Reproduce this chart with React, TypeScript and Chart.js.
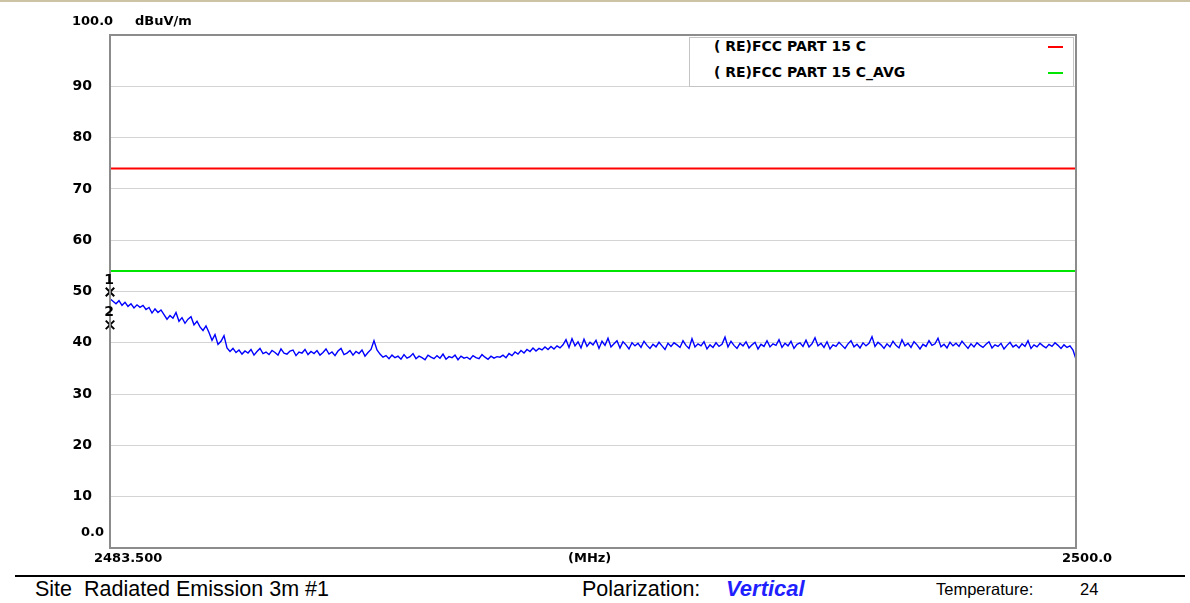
import React, { useEffect, useRef } from "react";
import { Chart, registerables } from "chart.js";

Chart.register(...registerables);

const freqStart = 2483.5;
const freqStop = 2500.0;
const yMin = 0;
const yMax = 100;
const yStep = 10;

const limitPeakLevel = 74;
const limitAvgLevel = 54;
const legendLabels = ["( RE)FCC PART 15 C", "( RE)FCC PART 15 C_AVG"];
const legendColors = ["#ff0000", "#00e600"];

const markerLabels = ["1", "2"];
const markerFreqs = [2483.5, 2483.5];
const markerLevels = [49.9, 43.5];

const traceStart = [
  48.6, 48.1, 47.6, 48.2, 47.3, 47.9, 47.1, 47.6, 46.8, 47.4,
  46.9, 47.3, 46.5, 46.9, 45.8, 46.6, 45.9,
  46.4, 45.5, 44.6, 45.3, 44.8, 45.9, 44.2, 44.9, 43.8, 44.6, 45.1, 43.5, 44.2,
  43.1, 42.4, 43.3, 42.0, 40.5, 41.6, 39.7, 40.3, 41.4, 39.0, 38.3, 38.9,
];
const traceLow = [
  38.1, 38.6, 37.8, 38.4, 38.0, 38.7, 37.6, 38.3, 38.9, 37.9,
  38.2, 37.7, 38.5, 38.1, 37.6, 38.8, 38.0, 37.8, 38.4, 38.6,
  37.5, 38.2, 38.0, 38.7, 37.7, 38.3, 37.9, 38.5, 37.6, 38.1,
  38.8, 37.8, 38.2, 37.5, 38.4, 38.9, 37.7, 38.0, 38.5, 37.6,
  38.3, 37.9, 38.6, 37.4, 38.1, 38.7,
  40.4, 38.6,
  37.8, 37.2, 37.5, 36.9, 37.6, 37.1, 37.4, 36.8, 37.7, 37.0,
  37.3, 37.9, 36.9, 37.4, 37.1, 36.7, 37.6, 37.2, 36.9, 37.5,
  37.0, 37.8, 36.8, 37.3, 37.1, 37.6, 36.7, 37.4, 37.0, 37.2,
  36.8, 37.5, 37.1, 36.9, 37.7, 37.2, 36.8, 37.4, 37.0, 37.3,
];
const traceRise = [
  37.2, 37.6, 37.1, 37.9, 37.5, 38.2, 37.8, 38.5, 38.0, 38.7,
  38.3, 39.0, 38.4, 38.9, 38.6, 39.2, 38.7, 39.3, 38.8, 39.4, 39.0, 39.6,
];
const tracePlateau = [
  40.6, 39.1, 40.8, 39.4, 40.2, 39.0, 40.7, 39.3, 40.1, 39.6,
  40.5, 38.9, 40.3, 39.5, 40.9, 39.2, 39.8, 40.4, 39.0, 40.2,
  39.6, 38.8, 40.0, 39.4, 39.9, 39.1, 40.3, 39.5, 38.9, 39.7,
  39.2, 40.1, 39.4, 38.7, 39.9, 39.3, 40.0, 39.6, 39.1, 40.4,
  39.5, 38.9, 40.8, 39.2, 39.8, 39.4, 40.2, 38.8, 39.6, 39.1,
  40.0, 39.3, 39.7, 41.1, 39.2, 40.3, 39.5, 38.9, 39.9, 39.4,
  40.2, 39.0, 39.6, 40.1, 38.8, 39.7, 39.3, 40.4, 39.2, 39.8,
  39.5, 40.6, 39.1, 39.9, 39.4, 40.3, 38.9, 39.7, 40.0, 39.3,
  40.5, 39.2, 39.8, 41.0, 39.4, 39.9, 39.1, 40.2, 38.8, 39.6,
  39.3, 40.1, 39.5, 38.9, 39.8, 40.4, 39.2, 39.7, 39.0, 40.0,
  39.4, 39.9, 41.2, 39.3, 40.1, 39.6, 38.9, 39.8, 39.2, 40.3,
  39.5, 39.0, 40.6, 39.4, 39.9, 39.1, 40.2, 39.6, 38.8, 39.7,
  39.3, 40.4, 39.5, 39.8, 40.9, 39.2, 39.7, 39.0, 40.1, 39.4,
  39.9, 39.3, 40.3, 39.6, 38.9, 39.8, 39.2, 40.0, 39.5, 39.1,
  39.7, 40.2, 39.0, 39.6, 39.3, 39.9, 38.8, 39.5, 40.1, 39.2,
  39.6, 39.0, 39.8, 39.3, 40.4, 38.9, 39.6, 39.2, 39.9, 39.4,
  39.0, 39.7, 39.3, 40.0, 39.5, 38.9, 39.6, 39.1, 39.4, 38.6,
  36.8,
];

const traceLevels = [...traceStart, ...traceLow, ...traceRise, ...tracePlateau];

const AXIS_FONT = "'DejaVu Sans', sans-serif";

export default function App() {
  const canvasRef = useRef<HTMLCanvasElement | null>(null);

  useEffect(() => {
    const canvas = canvasRef.current;
    if (!canvas) return;
    const n = traceLevels.length;
    const traceData = traceLevels.map((v, i) => ({
      x: freqStart + (i * (freqStop - freqStart)) / (n - 1),
      y: v,
    }));
    const markerData = markerLevels.map((v, i) => ({ x: markerFreqs[i], y: v }));

    const framePlugin = {
      id: "frame",
      afterDraw(chart: any) {
        const { ctx, chartArea } = chart;
        ctx.save();
        ctx.strokeStyle = "#8c8c8c";
        ctx.lineWidth = 2;
        ctx.strokeRect(chartArea.left, chartArea.top, chartArea.right - chartArea.left, chartArea.bottom - chartArea.top);
        ctx.restore();
      },
    };

    const markerLabelPlugin = {
      id: "markerLabels",
      afterDraw(chart: any) {
        const { ctx } = chart;
        const xs = chart.scales.x;
        const ys = chart.scales.y;
        ctx.save();
        ctx.fillStyle = "#000";
        ctx.font = `bold 14px ${AXIS_FONT}`;
        ctx.textAlign = "center";
        ctx.textBaseline = "middle";
        markerLabels.forEach((lab, i) => {
          const px = xs.getPixelForValue(markerFreqs[i]);
          const py = ys.getPixelForValue(markerLevels[i]);
          ctx.fillText(lab, px - 1, py - 12);
        });
        ctx.restore();
      },
    };

    const chart = new Chart(canvas, {
      type: "line",
      data: {
        datasets: [
          {
            type: "scatter",
            label: "markers",
            data: markerData,
            pointStyle: "crossRot",
            pointRadius: 6,
            pointBorderColor: "#000",
            pointBorderWidth: 2,
            borderColor: "#000",
            showLine: false,
            clip: false as any,
          },
          {
            label: "trace",
            data: traceData,
            borderColor: "#0000ff",
            borderWidth: 1.4,
            pointRadius: 0,
            tension: 0,
          },
          {
            label: legendLabels[0],
            data: [
              { x: freqStart, y: limitPeakLevel },
              { x: freqStop, y: limitPeakLevel },
            ],
            borderColor: legendColors[0],
            borderWidth: 2,
            pointRadius: 0,
          },
          {
            label: legendLabels[1],
            data: [
              { x: freqStart, y: limitAvgLevel },
              { x: freqStop, y: limitAvgLevel },
            ],
            borderColor: legendColors[1],
            borderWidth: 2,
            pointRadius: 0,
          },
        ],
      },
      options: {
        responsive: false,
        maintainAspectRatio: false,
        animation: false,
        layout: { padding: { left: 0, right: 114, top: 35, bottom: 0 } },
        plugins: {
          legend: { display: false },
          tooltip: { enabled: false },
          title: { display: false },
        },
        scales: {
          x: {
            type: "linear",
            min: freqStart,
            max: freqStop,
            grid: { display: false },
            border: { display: false },
            ticks: { display: false },
            afterFit(scale: any) {
              scale.height = 27;
            },
          },
          y: {
            type: "linear",
            min: yMin,
            max: yMax,
            grid: {
              color: "#d4d4d4",
              lineWidth: 1,
              drawTicks: false,
            },
            border: { display: false },
            ticks: {
              stepSize: yStep,
              padding: 18,
              color: "#000",
              font: { family: AXIS_FONT, size: 14, weight: "bold" },
              callback: (v: any) => (v === yMin || v === yMax ? "" : String(v)),
            },
            afterFit(scale: any) {
              scale.width = 110;
            },
          },
        },
      },
      plugins: [framePlugin, markerLabelPlugin],
    });
    return () => chart.destroy();
  }, []);

  const bold13: React.CSSProperties = {
    position: "absolute",
    fontFamily: AXIS_FONT,
    fontWeight: "bold",
    fontSize: 13,
    lineHeight: "16px",
    color: "#000",
    whiteSpace: "pre",
  };
  const arial: React.CSSProperties = {
    position: "absolute",
    fontFamily: "Arial, 'Liberation Sans', sans-serif",
    color: "#000",
    whiteSpace: "pre",
  };

  return (
    <div
      style={{
        position: "absolute",
        left: 0,
        top: 0,
        width: 1190,
        height: 603,
        background: "#fff",
        overflow: "hidden",
        borderTop: "2px solid #cbc3a3",
        boxSizing: "border-box",
      }}
    >
      <canvas
        ref={canvasRef}
        width={1190}
        height={575}
        style={{ position: "absolute", left: 0, top: -2, width: 1190, height: 575 }}
      />
      <div style={{ ...bold13, left: 72, top: 11 }}>100.0</div>
      <div style={{ ...bold13, left: 135, top: 11 }}>dBuV/m</div>
      <div style={{ ...bold13, left: 60, width: 44, textAlign: "right", top: 522 }}>0.0</div>
      <div style={{ ...bold13, left: 94, top: 548 }}>2483.500</div>
      <div style={{ ...bold13, left: 568, top: 548 }}>(MHz)</div>
      <div style={{ ...bold13, left: 1062, top: 548 }}>2500.0</div>

      <div
        style={{
          position: "absolute",
          left: 689,
          top: 35,
          width: 383,
          height: 48,
          border: "1px solid #c4c4c4",
          background: "#fff",
        }}
      />
      {legendLabels.map((lab, i) => (
        <React.Fragment key={lab}>
          <div style={{ ...bold13, fontSize: 14, left: 714, top: 36 + i * 26 }}>{lab}</div>
          <div
            style={{
              position: "absolute",
              left: 1048,
              top: 44 + i * 26,
              width: 15,
              height: 2,
              background: legendColors[i],
            }}
          />
        </React.Fragment>
      ))}

      <div style={{ position: "absolute", left: 15, top: 573, width: 1170, height: 2, background: "#000" }} />
      <div style={{ ...arial, left: 35, top: 574, fontSize: 21.5, lineHeight: "26px" }}>{"Site  Radiated Emission 3m #1"}</div>
      <div style={{ ...arial, left: 582, top: 574, fontSize: 21.5, lineHeight: "26px" }}>Polarization:</div>
      <div
        style={{
          ...arial,
          left: 726,
          top: 574,
          fontSize: 22,
          lineHeight: "26px",
          fontWeight: "bold",
          fontStyle: "italic",
          color: "#1f1fff",
        }}
      >
        Vertical
      </div>
      <div style={{ ...arial, left: 936, top: 577, fontSize: 16.5, lineHeight: "20px" }}>Temperature:</div>
      <div style={{ ...arial, left: 1080, top: 577, fontSize: 16.5, lineHeight: "20px" }}>24</div>
    </div>
  );
}
